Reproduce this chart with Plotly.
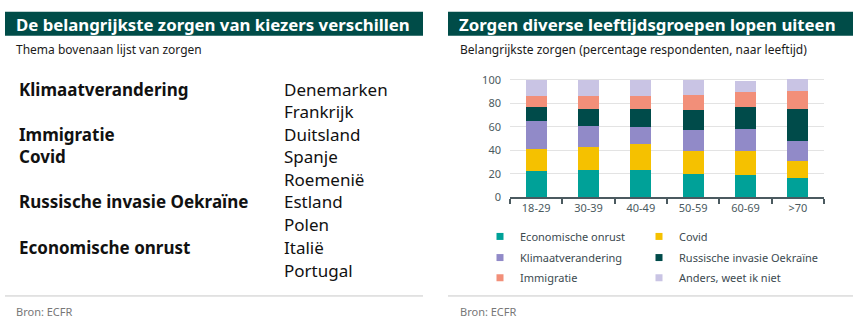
import plotly.graph_objects as go

W, H = 857, 326

# ---------------- data ----------------
age_groups = ["18-29", "30-39", "40-49", "50-59", "60-69", ">70"]
series_names = ["Economische onrust", "Covid", "Klimaatverandering",
                "Russische invasie Oekraïne", "Immigratie", "Anders, weet ik niet"]
econ = [22, 23, 23, 20, 19, 16]
covid = [19, 20, 22, 19, 20, 15]
klimaat = [24, 18, 15, 18, 19, 17]
russ = [12, 14, 15, 17, 19, 27]
immig = [9, 11, 11, 13, 13, 16]
anders = [14, 14, 14, 13, 9, 10]
series_values = [econ, covid, klimaat, russ, immig, anders]
series_colors = ["#00a198", "#f5c100", "#918ac8", "#004b4a", "#f28f79", "#c9c4e4"]

y_ticks = [0, 20, 40, 60, 80, 100]

# left panel: theme at top of list of concerns, per country
themes = ["Klimaatverandering", "", "Immigratie", "Covid", "",
          "Russische invasie Oekraïne", "", "Economische onrust", ""]
countries = ["Denemarken", "Frankrijk", "Duitsland", "Spanje", "Roemenië",
             "Estland", "Polen", "Italië", "Portugal"]

title_left = "De belangrijkste zorgen van kiezers verschillen"
title_right = "Zorgen diverse leeftijdsgroepen lopen uiteen"
sub_left = "Thema bovenaan lijst van zorgen"
sub_right = "Belangrijkste zorgen (percentage respondenten, naar leeftijd)"
source = "Bron: ECFR"

# ---------------- helpers ----------------
def px(x):
    return x / W

def py(y):
    return 1 - y / H

HEADER = "#004c48"
FONT_TXT = "Noto Sans"
AXIS_COL = "#4b5a60"

fig = go.Figure()

for name, vals, col in zip(series_names, series_values, series_colors):
    fig.add_trace(go.Bar(x=age_groups, y=vals, name=name, marker_color=col,
                         marker_line_width=0, showlegend=False))

# legend entries (small square markers), one legend per entry for placement
leg_pos = [(502, 240), (661, 240), (502, 262), (661, 262), (502, 283), (661, 283)]
for i, (name, col) in enumerate(zip(series_names, series_colors)):
    lg = "legend" if i == 0 else f"legend{i+1}"
    fig.add_trace(go.Scatter(x=[None], y=[None], mode="markers", name=name,
                             marker=dict(symbol="square", size=7, color=col),
                             legend=lg, showlegend=True))

legend_cfg = {}
for i, (lx, ly) in enumerate(leg_pos):
    key = "legend" if i == 0 else f"legend{i+1}"
    legend_cfg[key] = dict(x=px(lx - 22), y=py(ly), xanchor="left", yanchor="middle",
                           orientation="h", bgcolor="rgba(0,0,0,0)",
                           font=dict(family=FONT_TXT, size=11, color="#3c4a50"),
                           itemclick=False, itemdoubleclick=False)

shapes = []
annotations = []

# header bands
for x0, x1 in [(5, 423), (448, 853)]:
    shapes.append(dict(type="rect", xref="paper", yref="paper",
                       x0=px(x0), x1=px(x1), y0=py(31), y1=py(6),
                       fillcolor=HEADER, line_width=0, layer="below"))
# footer rules
for x0, x1 in [(5, 423), (448, 853)]:
    shapes.append(dict(type="line", xref="paper", yref="paper",
                       x0=px(x0), x1=px(x1), y0=py(302), y1=py(302),
                       line=dict(color="#c8c8c8", width=1)))

def txt(x, y, s, size, color="#1a1a1a", bold=False, family=FONT_TXT):
    annotations.append(dict(xref="paper", yref="paper", x=px(x), y=py(y),
                            xanchor="left", yanchor="middle", showarrow=False,
                            text=f"<b>{s}</b>" if bold else s,
                            font=dict(family=family, size=size, color=color)))

txt(14, 19, title_left, 16.8, "white", True)
txt(457, 19, title_right, 16.8, "white", True)
txt(14, 45, sub_left, 12, "#1a1a1a")
txt(458, 45, sub_right, 12, "#1a1a1a")
txt(14, 318, source, 11, "#777777")
txt(458, 318, source, 11, "#777777")

row_y = [86.5, 110, 133.5, 157, 180.5, 204, 227.5, 251.5, 275]
for yy, th, co in zip(row_y, themes, countries):
    if th:
        txt(17, yy, th, 17, "#111111", True)
    txt(282, yy, co, 17, "#111111")

fig.update_layout(
    width=W, height=H, margin=dict(l=0, r=0, t=0, b=0),
    paper_bgcolor="white", plot_bgcolor="white",
    barmode="stack", bargap=0.6,
    shapes=shapes, annotations=annotations,
    font=dict(family=FONT_TXT, color=AXIS_COL),
    **legend_cfg,
)
fig.update_xaxes(domain=[px(510), px(824)], showline=True, linecolor=AXIS_COL,
                 linewidth=2, ticks="outside", tickson="boundaries", ticklen=5,
                 tickwidth=2, tickcolor=AXIS_COL, showgrid=False,
                 tickfont=dict(family=FONT_TXT, size=11, color=AXIS_COL),
                 fixedrange=True)
fig.update_yaxes(domain=[py(199), py(74.6)], range=[0, 102], tickvals=y_ticks,
                 showgrid=True, gridcolor="#e3e3e3", gridwidth=1, zeroline=False,
                 showline=False, ticks="", ticklabelstandoff=8,
                 tickfont=dict(family=FONT_TXT, size=11, color=AXIS_COL),
                 fixedrange=True)

fig.write_html("out.html")
